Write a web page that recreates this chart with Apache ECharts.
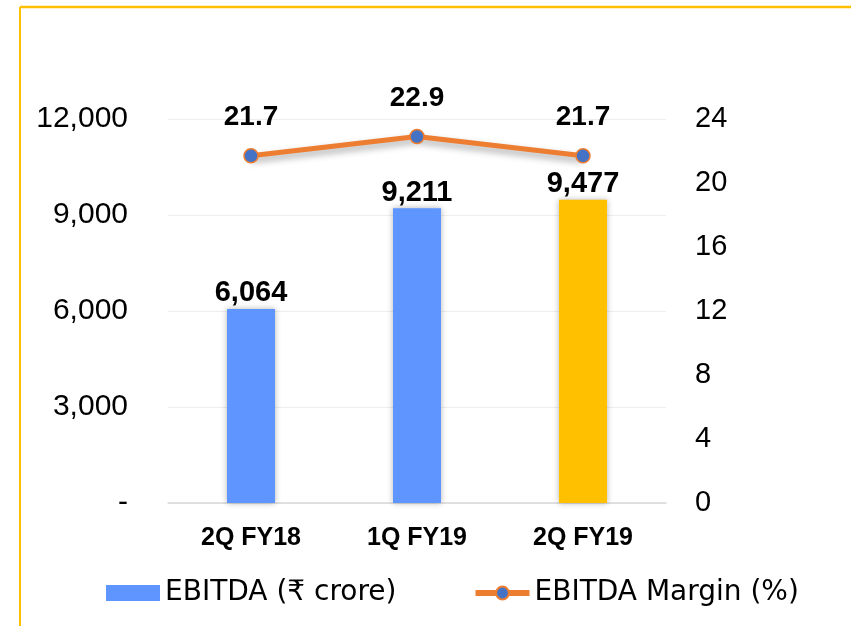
<!DOCTYPE html>
<html>
<head>
    <meta charset="UTF-8">
    <title>EBITDA</title>
    <style>
        html, body { margin: 0; padding: 0; background: #fff; }
        #main { width: 851px; height: 626px; }
    </style>
</head>
<body>
<div id="main"></div>
<script src="https://cdn.jsdelivr.net/npm/echarts@6/dist/echarts.min.js"></script>
<script>
    // 数据
    var quarters = ['2Q FY18', '1Q FY19', '2Q FY19'];
    var ebitda = [6064, 9211, 9477];
    var margin = [21.7, 22.9, 21.7];
    var barColors = ['#5F95FF', '#5F95FF', '#FFC000'];

    var fmt = function (v) {
        return Number(v).toLocaleString('en-US');
    };

    var myChart = echarts.init(document.getElementById('main'));

    var option = {
        backgroundColor: '#fff',
        animation: false,
        textStyle: {fontFamily: '"Liberation Sans", Arial, sans-serif'},
        graphic: [
            {type: 'line', shape: {x1: 20, y1: 7, x2: 851, y2: 7}, style: {stroke: '#FFC000', lineWidth: 2.5}},
            {type: 'line', shape: {x1: 20, y1: 7, x2: 20, y2: 626}, style: {stroke: '#FFC000', lineWidth: 2}}
        ],
        grid: {left: 168, right: 185, top: 119, bottom: 123},
        legend: {
            left: 101,
            top: 574,
            itemWidth: 54,
            itemHeight: 16,
            itemGap: 76,
            itemTextGap: 5,
            textStyle: {fontFamily: '"DejaVu Sans", sans-serif', fontSize: 28, color: '#000'},
            data: [
                {name: 'EBITDA (₹ crore)', icon: 'rect', itemStyle: {color: '#5F95FF'}},
                {name: 'EBITDA Margin (%)', lineStyle: {width: 6, color: '#ED7D31'}}
            ]
        },
        xAxis: {
            type: 'category',
            data: quarters,
            axisLine: {lineStyle: {color: '#D9D9D9', width: 1.5}},
            axisTick: {show: false},
            axisLabel: {fontSize: 25, fontWeight: 'bold', color: '#000', margin: 23}
        },
        yAxis: [
            {
                type: 'value', min: 0, max: 12000, interval: 3000,
                axisLine: {show: false}, axisTick: {show: false},
                splitLine: {lineStyle: {color: '#EEEEEE'}},
                axisLabel: {
                    fontSize: 30, color: '#000', margin: 40,
                    formatter: function (v) { return v === 0 ? '-' : fmt(v); }
                }
            },
            {
                type: 'value', min: 0, max: 24, interval: 4,
                axisLine: {show: false}, axisTick: {show: false},
                splitLine: {show: false},
                axisLabel: {fontSize: 29, color: '#000', margin: 29}
            }
        ],
        series: [
            {
                name: 'EBITDA (₹ crore)',
                type: 'bar',
                barWidth: 48,
                data: ebitda.map(function (v, i) {
                    return {value: v, itemStyle: {color: barColors[i]}};
                }),
                itemStyle: {shadowColor: 'rgba(0,0,0,0.3)', shadowBlur: 6},
                label: {
                    show: true, position: 'top', distance: 1,
                    fontSize: 29, fontWeight: 'bold', color: '#000',
                    formatter: function (p) { return fmt(p.value); }
                }
            },
            {
                name: 'EBITDA Margin (%)',
                type: 'line',
                yAxisIndex: 1,
                data: margin,
                symbol: 'circle',
                symbolSize: 14,
                lineStyle: {color: '#ED7D31', width: 5, shadowColor: 'rgba(0,0,0,0.35)', shadowBlur: 7, shadowOffsetY: 4},
                itemStyle: {color: '#4472C4', borderColor: '#ED7D31', borderWidth: 1.5},
                label: {
                    show: true, position: 'top', distance: 17,
                    fontSize: 28, fontWeight: 'bold', color: '#000',
                    formatter: function (p) { return p.value.toFixed(1); }
                }
            }
        ]
    };

    myChart.setOption(option);
</script>
</body>
</html>
